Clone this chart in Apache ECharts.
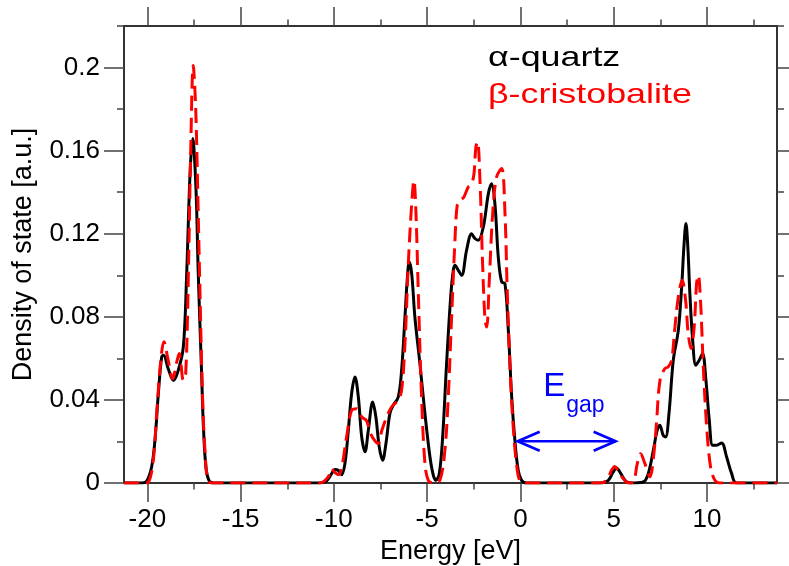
<!DOCTYPE html>
<html>
<head>
<meta charset="utf-8">
<title>Density of states: α-quartz vs β-cristobalite</title>
<script src="https://cdn.jsdelivr.net/npm/echarts@6.0.0/dist/echarts.min.js"></script>
<style>
  html, body { margin: 0; padding: 0; background: #ffffff; }
  #chart { width: 789px; height: 566px; }
</style>
</head>
<body>
<div id="chart"></div>
<script>
// Total density of states of two SiO2 polymorphs (energy in eV, DOS in a.u.)
const energyQuartz = [
  -21.25, -20.3, -20.03, -19.77, -19.59, -19.41, -19.23, -19.13, -18.88, -18.6,
  -18.34, -18.07, -17.89, -17.71, -17.57, -17.39, -17.27, -17.09, -17.0, -16.86,
  -16.68, -16.4,
  -10.75, -10.39, -10.12, -9.94, -9.76, -9.59, -9.41, -9.23, -9.05, -8.87,
  -8.69, -8.51, -8.33, -8.16, -7.92, -7.75, -7.57, -7.39, -7.21, -7.0,
  -6.82, -6.55, -6.37, -6.19, -6.07, -5.96, -5.83, -5.66, -5.39, -5.12,
  -4.85, -4.67, -4.53, -4.35, -4.17, -3.96, -3.74, -3.6, -3.51, -3.33,
  -3.15, -2.89, -2.62, -2.44, -2.26, -1.99, -1.72, -1.55, -1.37, -1.19,
  -1.01, -0.83, -0.65, -0.47, -0.3, -0.12, 0.06, 0.33,
  4.26, 4.71, 4.97, 5.15, 5.33, 5.6, 5.87, 6.58, 6.85, 7.12,
  7.33, 7.47, 7.65, 7.78, 7.96, 8.19, 8.46, 8.64, 8.76, 8.87,
  8.97, 9.08, 9.23, 9.4, 9.58, 9.76, 9.94, 10.12, 10.3, 10.51,
  10.78, 11.05, 11.32, 11.58, 13.75
];
const dosQuartz = [
  0, 0, 0.001, 0.0077, 0.0206, 0.043, 0.0607, 0.0615, 0.055, 0.0494,
  0.0543, 0.0655, 0.1008, 0.149, 0.1658, 0.141, 0.1008, 0.0527, 0.0286, 0.0077,
  0.001, 0,
  0, 0.001, 0.0045, 0.0065, 0.006, 0.004, 0.0093, 0.025, 0.0431, 0.051,
  0.0414, 0.0222, 0.015, 0.025, 0.039, 0.0318, 0.0174, 0.011, 0.019, 0.0334,
  0.0374, 0.0414, 0.0543, 0.08, 0.0977, 0.1064, 0.1008, 0.08, 0.0575, 0.0334,
  0.0125, 0.0037, 0.0013, 0.0045, 0.0222, 0.0575, 0.0896, 0.1024, 0.1048, 0.1024,
  0.1, 0.112, 0.12, 0.1177, 0.1169, 0.1233, 0.1393, 0.1441, 0.1345, 0.1088,
  0.0968, 0.096, 0.0735, 0.0414, 0.0206, 0.0061, 0.0013, 0,
  0, 0.0013, 0.0053, 0.0072, 0.0053, 0.0013, 0, 0.0005, 0.0045, 0.0157,
  0.0254, 0.0278, 0.023, 0.0222, 0.0334, 0.059, 0.0735, 0.0944, 0.1137, 0.1249,
  0.1137, 0.0912, 0.0687, 0.0567, 0.0591, 0.0623, 0.0495, 0.0302, 0.0182, 0.0182,
  0.0193, 0.0125, 0.0045, 0, 0
];

const energyCristobalite = [
  -21.25, -20.2, -19.94, -19.68, -19.5, -19.28, -19.11, -18.88, -18.64, -18.43,
  -18.29, -18.07, -17.94, -17.8, -17.68, -17.54, -17.41, -17.3, -17.18, -17.05,
  -16.91, -16.73, -16.4,
  -10.75, -10.3, -10.12, -9.94, -9.76, -9.59, -9.32, -9.05, -8.78, -8.51,
  -8.25, -8.07, -7.83, -7.62, -7.44, -7.17, -6.91, -6.55, -6.37, -6.19,
  -6.01, -5.83, -5.71, -5.6, -5.48, -5.3, -5.12, -4.94, -4.67, -4.32,
  -4.05, -3.87, -3.69, -3.51, -3.39, -3.24, -3.03, -2.8, -2.62, -2.49,
  -2.39, -2.3, -2.17, -2.03, -1.9, -1.81, -1.67, -1.49, -1.28, -1.01,
  -0.83, -0.71, -0.53, -0.35, -0.17, -0.03, 0.24,
  4.26, 4.62, 4.88, 5.06, 5.24, 5.51, 5.78, 6.05, 6.26, 6.44,
  6.67, 6.94, 7.15, 7.3, 7.48, 7.74, 7.92, 8.1, 8.28, 8.46,
  8.67, 8.85, 8.99, 9.14, 9.31, 9.44, 9.53, 9.65, 9.8, 9.98,
  10.19, 10.42, 10.69, 13.75
];
const dosCristobalite = [
  0, 0, 0.0005, 0.011, 0.0334, 0.059, 0.068, 0.059, 0.0502, 0.058,
  0.0623, 0.0494, 0.053, 0.1008, 0.157, 0.201, 0.181, 0.141, 0.0928, 0.0446,
  0.0157, 0.001, 0,
  0, 0.003, 0.0069, 0.005, 0.004, 0.007, 0.0222, 0.035, 0.0358, 0.0318,
  0.03, 0.0246, 0.0206, 0.019, 0.025, 0.0318, 0.0366, 0.04, 0.0447, 0.0671,
  0.1056, 0.1345, 0.1457, 0.1297, 0.0928, 0.0414, 0.0093, 0.0013, 0, 0.0013,
  0.0158, 0.0414, 0.08, 0.1169, 0.1337, 0.136, 0.1377, 0.1425, 0.1441, 0.149,
  0.1618, 0.1642, 0.1457, 0.1056, 0.0784, 0.0751, 0.0977, 0.1297, 0.1473, 0.1514,
  0.1297, 0.0928, 0.0495, 0.0222, 0.0061, 0.0013, 0,
  0, 0.0013, 0.0061, 0.008, 0.0058, 0.0021, 0, 0.0005, 0.0093, 0.0141,
  0.0093, 0.003, 0.0141, 0.0302, 0.0495, 0.0551, 0.0559, 0.059, 0.0751, 0.0896,
  0.0976, 0.088, 0.072, 0.0647, 0.0751, 0.096, 0.1, 0.088, 0.0559, 0.027,
  0.0077, 0.0013, 0, 0
];

// Axis ranges and tick positions
const energyRange = [-21.25, 13.75];
const dosRange = [0, 0.22];
const energyMajorTicks = [-20, -15, -10, -5, 0, 5, 10];
const energyMinorTicks = [-17.5, -12.5, -7.5, -2.5, 2.5, 7.5, 12.5];
const dosMajorTicks = [0, 0.04, 0.08, 0.12, 0.16, 0.2];
const dosMinorTicks = [0.02, 0.06, 0.1, 0.14, 0.18, 0.22];

// Band gap marker: from the valence band edge to the conduction band onset
const gapStart = -0.15;
const gapEnd = 5.1;
const gapLevel = 0.0201;

const seriesNames = ['α-quartz', 'β-cristobalite'];
const seriesColors = ['#000000', '#ff0000'];

const FONT = '"Liberation Sans", Arial, Helvetica, sans-serif';
const AXIS_COLOR = '#333333';
const TICK_COLOR = '#444444';

function zip(xs, ys) {
  return xs.map((x, i) => [x, ys[i]]);
}

// Hidden line (kept off zero so every axis sits on the grid edge)
const hiddenLine = { show: false, onZero: false };
const frameLine = { show: true, onZero: false, lineStyle: { color: AXIS_COLOR, width: 2 } };

function energyAxis(position, ticks, len, opts) {
  return Object.assign({
    type: 'value',
    position: position,
    min: energyRange[0],
    max: energyRange[1],
    axisLine: hiddenLine,
    axisTick: { show: true, inside: false, length: len, customValues: ticks,
                lineStyle: { color: TICK_COLOR, width: 1.5 } },
    axisLabel: { show: false },
    splitLine: { show: false }
  }, opts || {});
}

function dosAxis(position, ticks, len, opts) {
  return Object.assign({
    type: 'value',
    position: position,
    min: dosRange[0],
    max: dosRange[1],
    axisLine: hiddenLine,
    axisTick: { show: true, inside: false, length: len, customValues: ticks,
                lineStyle: { color: TICK_COLOR, width: 1.5 } },
    axisLabel: { show: false },
    splitLine: { show: false }
  }, opts || {});
}

const chart = echarts.init(document.getElementById('chart'), null, { renderer: 'canvas' });

chart.setOption({
  animation: false,
  backgroundColor: '#ffffff',
  grid: { left: 124, top: 26, width: 653, height: 457, outerBoundsMode: 'none' },
  xAxis: [
    energyAxis('bottom', energyMajorTicks, 19, {
      axisLine: frameLine,
      axisLabel: {
        show: true, customValues: energyMajorTicks, margin: 24,
        color: '#000', fontSize: 26, fontFamily: FONT
      },
      name: 'Energy [eV]',
      nameLocation: 'middle',
      nameGap: 49,
      nameTextStyle: { color: '#000', fontSize: 27, fontFamily: FONT }
    }),
    energyAxis('bottom', energyMinorTicks, 6.5),
    energyAxis('top', energyMajorTicks, 19, { axisLine: frameLine }),
    energyAxis('top', energyMinorTicks, 6.5)
  ],
  yAxis: [
    dosAxis('left', dosMajorTicks, 20, {
      axisLine: frameLine,
      axisLabel: {
        show: true, customValues: dosMajorTicks, margin: 24,
        color: '#000', fontSize: 26, fontFamily: FONT,
        formatter: v => String(+(+v).toFixed(2))
      },
      name: 'Density of state [a.u.]',
      nameLocation: 'middle',
      nameGap: 87,
      nameTextStyle: { color: '#000', fontSize: 27, fontFamily: FONT }
    }),
    dosAxis('left', dosMinorTicks, 7),
    dosAxis('right', dosMajorTicks, 20, { axisLine: frameLine }),
    dosAxis('right', dosMinorTicks, 7)
  ],
  series: [
    {
      name: seriesNames[0],
      type: 'line',
      xAxisIndex: 0,
      yAxisIndex: 0,
      data: zip(energyQuartz, dosQuartz),
      showSymbol: false,
      symbol: 'none',
      smooth: 0.35,
      clip: true,
      z: 3,
      lineStyle: { color: seriesColors[0], width: 3 }
    },
    {
      name: seriesNames[1],
      type: 'line',
      xAxisIndex: 0,
      yAxisIndex: 0,
      data: zip(energyCristobalite, dosCristobalite),
      showSymbol: false,
      symbol: 'none',
      smooth: 0.35,
      clip: true,
      z: 4,
      lineStyle: { color: seriesColors[1], width: 3, type: [15, 7] }
    },
    {
      // Double-headed arrow spanning the band gap, with its label
      name: 'gap',
      type: 'custom',
      xAxisIndex: 0,
      yAxisIndex: 0,
      z: 5,
      data: [[gapStart, gapEnd, gapLevel]],
      encode: { x: [0, 1], y: 2 },
      renderItem: function (params, api) {
        const a = api.coord([api.value(0), api.value(2)]);
        const b = api.coord([api.value(1), api.value(2)]);
        const blue = '#0000ff';
        const stroke = { stroke: blue, lineWidth: 2.7, fill: null };
        const hx = 22, hy = 9.5;
        return {
          type: 'group',
          children: [
            { type: 'line', shape: { x1: a[0], y1: a[1], x2: b[0], y2: b[1] }, style: stroke },
            { type: 'polyline', shape: { points: [[a[0] + hx, a[1] - hy], [a[0], a[1]], [a[0] + hx, a[1] + hy]] }, style: stroke },
            { type: 'polyline', shape: { points: [[b[0] - hx, b[1] - hy], [b[0], b[1]], [b[0] - hx, b[1] + hy]] }, style: stroke },
            { type: 'text', x: a[0] + 25.5, y: a[1] - 54.5,
              style: { text: 'E', fill: blue, fontSize: 33, fontFamily: FONT, align: 'left', verticalAlign: 'middle' } },
            { type: 'text', x: a[0] + 48.5, y: a[1] - 35.5,
              style: { text: 'gap', fill: blue, fontSize: 23, fontFamily: FONT, align: 'left', verticalAlign: 'middle' } }
          ]
        };
      }
    }
  ],
  graphic: [
    { type: 'text', x: 488, y: 58.5, scaleX: 1.28,
      style: { text: seriesNames[0], fill: seriesColors[0], fontSize: 28, fontFamily: FONT, align: 'left', verticalAlign: 'middle' } },
    { type: 'text', x: 488, y: 95.5, scaleX: 1.28,
      style: { text: seriesNames[1], fill: seriesColors[1], fontSize: 28, fontFamily: FONT, align: 'left', verticalAlign: 'middle' } }
  ]
});
</script>
</body>
</html>
